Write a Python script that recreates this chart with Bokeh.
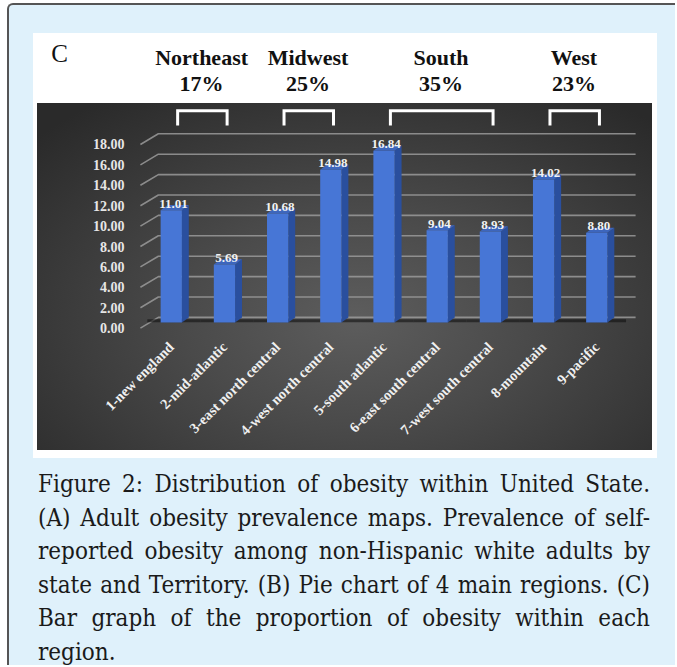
import math
from bokeh.plotting import figure
from bokeh.models import Range1d, FixedTicker, Div, Spacer, LinearAxis
from bokeh.layouts import column, row
from bokeh.embed import file_html
from bokeh.resources import INLINE
from bokeh.core.properties import value

# ---------------- data ----------------
panel_letter = "C"
categories = ["1-new england", "2-mid-atlantic", "3-east north central",
              "4-west north central", "5-south atlantic", "6-east south central",
              "7-west south central", "8-mountain", "9-pacific"]
values = [11.01, 5.69, 10.68, 14.98, 16.84, 9.04, 8.93, 14.02, 8.80]
value_labels = ["11.01", "5.69", "10.68", "14.98", "16.84", "9.04", "8.93", "14.02", "8.80"]
regions = ["Northeast", "Midwest", "South", "West"]
region_shares = ["17%", "25%", "35%", "23%"]
region_first = [0, 2, 4, 7]
region_last = [1, 3, 6, 8]
y_ticks = [0, 2, 4, 6, 8, 10, 12, 14, 16, 18]
y_tick_labels = ["0.00", "2.00", "4.00", "6.00", "8.00", "10.00", "12.00",
                 "14.00", "16.00", "18.00"]
caption_lines = [
    "Figure 2: Distribution of obesity within United State.",
    "(A) Adult obesity prevalence maps. Prevalence of self-",
    "reported obesity among non-Hispanic white adults by",
    "state and Territory. (B) Pie chart of 4 main regions. (C)",
    "Bar graph of the proportion of obesity within each",
    "region.",
]

SERIF = "Liberation Serif"
Y0, Y1 = -0.784, 28.33
X0, X1 = -0.710, 8.822
PANEL_H = 425


def clean(fig):
    fig.background_fill_alpha = 0
    fig.border_fill_alpha = 0
    fig.outline_line_color = None
    fig.grid.visible = False


# small figure holding the panel letter
c_fig = figure(width=56, height=PANEL_H, output_backend="svg", toolbar_location=None,
               x_range=Range1d(0, 56), y_range=Range1d(PANEL_H, 0),
               x_axis_location=None, y_axis_location=None, min_border=0)
clean(c_fig)
c_fig.text(x=[26], y=[29], text=[panel_letter], text_font=value(SERIF),
           text_font_size="25px", text_color="#111111",
           text_align="center", text_baseline="middle")

# main chart
p = figure(width=568, height=PANEL_H, output_backend="svg", toolbar_location=None,
           x_range=Range1d(X0, X1), y_range=Range1d(Y0, Y1),
           y_axis_location=None,
           min_border_left=41, min_border_right=17,
           min_border_top=0, min_border_bottom=128)
clean(p)

xax = p.xaxis[0]
xax.ticker = FixedTicker(ticks=list(range(len(categories))))
xax.major_label_overrides = {i: c for i, c in enumerate(categories)}
xax.major_label_orientation = math.pi / 4
xax.axis_line_color = None
xax.major_tick_line_color = None
xax.minor_tick_line_color = None
xax.major_label_standoff = 8
xax.major_label_text_font = SERIF
xax.major_label_text_font_style = "bold"
xax.major_label_text_font_size = "14.5px"
xax.major_label_text_color = "#f0f0f0"

# y axis labels sit at the front edge, slightly below the back-wall lines
p.extra_y_ranges = {"lbl": Range1d(Y0 + 0.55, Y1 + 0.55)}
yax = LinearAxis(y_range_name="lbl", ticker=FixedTicker(ticks=y_ticks),
                 major_label_overrides={t: l for t, l in zip(y_ticks, y_tick_labels)})
yax.axis_line_color = None
yax.major_tick_line_color = None
yax.minor_tick_line_color = None
yax.major_label_standoff = 3
yax.major_label_text_font = SERIF
yax.major_label_text_font_style = "bold"
yax.major_label_text_font_size = "14px"
yax.major_label_text_color = "#e6e6e6"
p.add_layout(yax, "left")

# perspective gridlines
grid_xs = [[-0.58, -0.243, 8.73] for _ in y_ticks]
grid_ys = [[t - 0.55, t + 0.5, t + 0.5] for t in y_ticks]
p.multi_line(grid_xs, grid_ys, line_color="#9a9a9a", line_width=1.6, line_alpha=0.85)

idx = list(range(len(categories)))
bw, dx, dy = 0.4, 0.13, 0.5
# floor shadow
p.multi_line([[i - 0.45, i + 0.55] for i in idx], [[0.18, 0.18] for _ in idx],
             line_color="#111111", line_width=3, line_alpha=0.6)

# bars: side face, top face, front face
side_xs = [[i + bw / 2, i + bw / 2 + dx, i + bw / 2 + dx, i + bw / 2] for i in idx]
side_ys = [[0, dy, v + dy, v] for v in values]
p.patches(side_xs, side_ys, fill_color="#2a4f9e", line_color=None)
top_xs = [[i - bw / 2, i + bw / 2, i + bw / 2 + dx, i - bw / 2 + dx] for i in idx]
top_ys = [[v, v, v + dy, v + dy] for v in values]
p.patches(top_xs, top_ys, fill_color="#3d66bd", line_color=None)
p.vbar(x=idx, top=values, bottom=0, width=bw, fill_color="#4776d6", line_color=None)

# value labels
p.text(x=[i + 0.04 for i in idx], y=[v + 0.62 for v in values], text=value_labels,
       text_font=value(SERIF), text_font_style="bold", text_font_size="13px",
       text_color="#f2f2f2", text_align="center", text_baseline="alphabetic")

# region brackets
bx = [[f + 0.12, f + 0.12, l + 0.05, l + 0.05] for f, l in zip(region_first, region_last)]
by = [[19.3, 20.75, 20.75, 19.3] for _ in regions]
p.multi_line(bx, by, line_color="white", line_width=3, line_join="miter")

# region headers
hx = [(f + l) / 2 + 0.07 for f, l in zip(region_first, region_last)]
p.text(x=hx, y=[25.98] * len(regions), text=regions, text_font=value(SERIF),
       text_font_style="bold", text_font_size="22px", text_color="#111111",
       text_align="center", text_baseline="middle")
p.text(x=hx, y=[23.43] * len(regions), text=region_shares, text_font=value(SERIF),
       text_font_style="bold", text_font_size="22px", text_color="#111111",
       text_align="center", text_baseline="middle")

chart_row = row(c_fig, p, styles={
    "background": "radial-gradient(ellipse 70% 78% at 52% 62%, #5d5d5d 0%, #4a4a4a 40%, #2a2a2a 100%) 4px 70px / 615px 347px no-repeat, #ffffff"
})

# caption
font_css = ("width:612px;font-family:'DejaVu Serif Condensed','DejaVu Serif',serif;"
            "font-stretch:condensed;font-size:24px;line-height:33.5px;color:#1a1a1a;")
inner = ""
for k, line in enumerate(caption_lines):
    if k < len(caption_lines) - 1:
        inner += f'<div style="text-align:justify;text-align-last:justify;">{line}</div>'
    else:
        inner += f'<div style="text-align:left;">{line}</div>'
cap_div = Div(text=f'<div style="{font_css}">{inner}</div>', width=612, height=204)

root = column(Spacer(height=28), row(Spacer(width=24), chart_row), Spacer(height=5),
              row(Spacer(width=24), cap_div),
              width=668, height=662,
              styles={"background-color": "#dff1fb",
                      "border-left": "2px solid #555555",
                      "border-top": "2px solid #555555",
                      "border-top-left-radius": "6px",
                      "overflow": "hidden"})
root.margin = (3, 0, 0, 7)

open("out.html", "w").write(file_html(root, INLINE))
